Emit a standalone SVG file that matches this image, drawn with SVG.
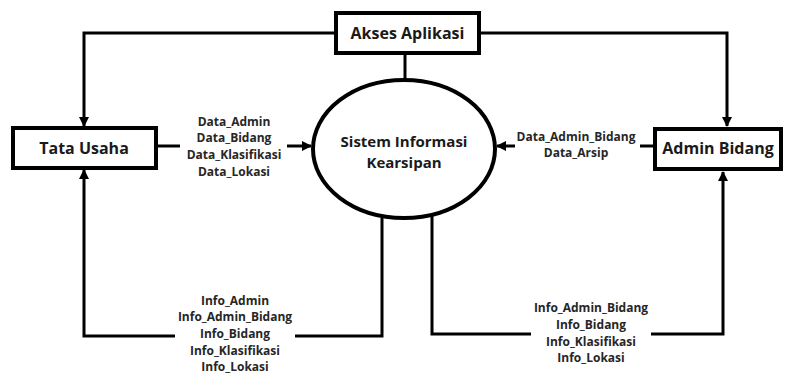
<svg xmlns="http://www.w3.org/2000/svg" width="788" height="374" viewBox="0 0 788 374">
  <style>
    .box { fill: #ffffff; stroke: #000000; stroke-width: 4; }
    .proc { fill: #ffffff; stroke: #000000; stroke-width: 4; }
    .node-text { font-family: "Open Sans", "Liberation Sans", sans-serif; font-weight: 700; font-size: 16px; fill: #1a1a1a; text-anchor: middle; }
    .proc-text { font-family: "Open Sans", "Liberation Sans", sans-serif; font-weight: 700; font-size: 15px; fill: #1a1a1a; text-anchor: middle; }
    .label { font-family: "Open Sans", "Liberation Sans", sans-serif; font-weight: 700; font-size: 12px; fill: #262626; text-anchor: middle; }
    .flow { fill: none; stroke: #000000; stroke-width: 3; }
  </style>
  <defs>
    <marker id="arrow" markerWidth="10" markerHeight="10" refX="9" refY="5" orient="auto" markerUnits="userSpaceOnUse">
      <path d="M0,0 L10,5 L0,10 Z" fill="#000000"/>
    </marker>
  </defs>
  <rect width="788" height="374" fill="#ffffff"/>

  <g id="connectors">
    <!-- Akses Aplikasi to Tata Usaha -->
    <polyline class="flow" points="335,33 84,33 84,126" marker-end="url(#arrow)"/>
    <!-- Akses Aplikasi to Admin Bidang -->
    <polyline class="flow" points="480,33 727,33 727,126" marker-end="url(#arrow)"/>
    <!-- Akses Aplikasi to process -->
    <line class="flow" x1="405" y1="53" x2="405" y2="80"/>
    <!-- Tata Usaha data flow -->
    <line class="flow" x1="157" y1="146" x2="180" y2="146"/>
    <line class="flow" x1="287" y1="146" x2="311" y2="146" marker-end="url(#arrow)"/>
    <!-- Admin Bidang data flow -->
    <line class="flow" x1="654" y1="146" x2="640" y2="146"/>
    <line class="flow" x1="515" y1="146" x2="497" y2="146" marker-end="url(#arrow)"/>
    <!-- Info flow to Tata Usaha -->
    <polyline class="flow" points="382,218 382,336 295,336"/>
    <polyline class="flow" points="175,336 84,336 84,170" marker-end="url(#arrow)"/>
    <!-- Info flow to Admin Bidang -->
    <polyline class="flow" points="432,216 432,334 531,334"/>
    <polyline class="flow" points="651,334 723,334 723,172" marker-end="url(#arrow)"/>
  </g>

  <g id="akses-aplikasi">
    <rect class="box" x="336" y="13" width="143" height="40"/>
    <text class="node-text" x="407.5" y="39">Akses Aplikasi</text>
  </g>

  <g id="tata-usaha">
    <rect class="box" x="13" y="128" width="143" height="40"/>
    <text class="node-text" x="84" y="154">Tata Usaha</text>
  </g>

  <g id="admin-bidang">
    <rect class="box" x="655" y="129" width="126" height="40"/>
    <text class="node-text" x="718" y="154">Admin Bidang</text>
  </g>

  <g id="sistem-informasi-kearsipan">
    <ellipse class="proc" cx="404" cy="149" rx="91" ry="69"/>
    <text class="proc-text" x="404" y="147">Sistem Informasi</text>
    <text class="proc-text" x="404" y="168">Kearsipan</text>
  </g>

  <g id="labels">
    <text class="label" x="234" y="126">Data_Admin</text>
    <text class="label" x="234" y="142">Data_Bidang</text>
    <text class="label" x="234" y="159">Data_Klasifikasi</text>
    <text class="label" x="234" y="176">Data_Lokasi</text>

    <text class="label" x="576" y="141">Data_Admin_Bidang</text>
    <text class="label" x="576" y="157">Data_Arsip</text>

    <text class="label" x="235" y="305">Info_Admin</text>
    <text class="label" x="235" y="321">Info_Admin_Bidang</text>
    <text class="label" x="235" y="338">Info_Bidang</text>
    <text class="label" x="235" y="355">Info_Klasifikasi</text>
    <text class="label" x="235" y="371">Info_Lokasi</text>

    <text class="label" x="591" y="312">Info_Admin_Bidang</text>
    <text class="label" x="591" y="329">Info_Bidang</text>
    <text class="label" x="591" y="346">Info_Klasifikasi</text>
    <text class="label" x="591" y="362">Info_Lokasi</text>
  </g>
</svg>
